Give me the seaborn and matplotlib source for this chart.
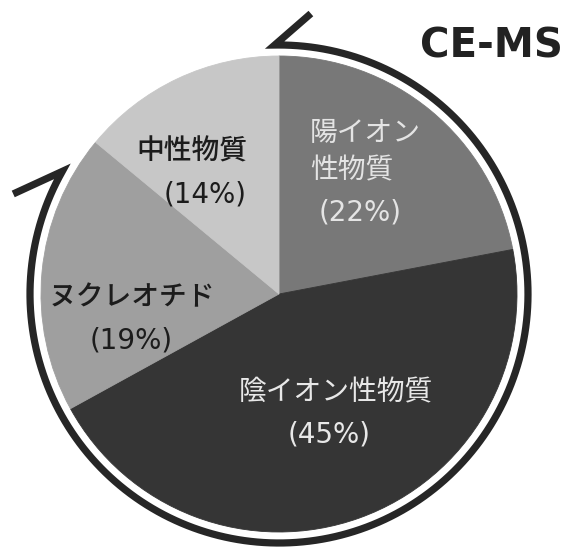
import numpy as np
import matplotlib
matplotlib.use("Agg")
import matplotlib.pyplot as plt
import seaborn as sns

# ---- data ----
categories = ["陽イオン性物質", "陰イオン性物質", "ヌクレオチド", "中性物質"]
label_lines = [["陽イオン", "性物質"], ["陰イオン性物質"], ["ヌクレオチド"], ["中性物質"]]
values = [22, 45, 19, 14]
title = "CE-MS"

# ---- style ----
slice_colors = ["#787878", "#353535", "#9f9f9f", "#c7c7c7"]
text_colors = ["#e4e4e4", "#e8e8e8", "#1c1c1c", "#1c1c1c"]
text_weights = ["normal", "normal", "medium", "medium"]

sns.set_theme(style="white")
plt.rcParams["font.family"] = ["DejaVu Sans", "Noto Sans CJK JP"]

W, H = 571, 555
fig = plt.figure(figsize=(W / 100, H / 100), dpi=100)
ax = fig.add_axes([0, 0, 1, 1])

def Y(y):
    return H - y

cx, cy = 279, Y(294)
R = 238

wedges, _ = ax.pie(values, colors=slice_colors, startangle=90, counterclock=False,
                   center=(cx, cy), radius=R, wedgeprops=dict(linewidth=0.6))
for w, c in zip(wedges, slice_colors):
    w.set_edgecolor(c)

# arrow arc around the pie (decoration)
ra = 249
a_start, a_end = 150.5, 91 + 360
th = np.radians(np.linspace(a_start, a_end, 400))
ax_ = cx + ra * np.cos(th)
ay_ = cy + ra * np.sin(th)
lt = (ax_[0], ay_[0])
tt = (ax_[-1], ay_[-1])
lb = (lt[0] + 54 * np.cos(np.radians(204.7)), lt[1] + 54 * np.sin(np.radians(204.7)))
tb = (tt[0] + 48 * np.cos(np.radians(41)), tt[1] + 48 * np.sin(np.radians(41)))
xs = np.concatenate([[lb[0]], ax_, [tb[0]]])
ys = np.concatenate([[lb[1]], ay_, [tb[1]]])
ax.plot(xs, ys, color="#262626", lw=5.2, solid_joinstyle="miter",
        solid_capstyle="butt", zorder=3)

# labels
fs = 20
pct_pos = [(360, 212, "center"), (329, 434, "center"), (131, 341, "center"), (205, 195, "center")]
line_pos = [[(310, 133, "left"), (310, 170, "left")],
            [(336, 392, "center")],
            [(132, 297, "center")],
            [(192, 151, "center")]]
for i, v in enumerate(values):
    for txt, (x, y, ha) in zip(label_lines[i], line_pos[i]):
        ax.text(x, Y(y), txt, ha=ha, va="center", fontsize=fs,
                color=text_colors[i], weight=text_weights[i], zorder=4)
    x, y, ha = pct_pos[i]
    ax.text(x, Y(y), f"({v}%)", ha=ha, va="center", fontsize=fs,
            color=text_colors[i], weight="normal", zorder=4)

ax.text(420, Y(46), title, ha="left", va="center", fontsize=29,
        weight="bold", color="#222222")

ax.set_xlim(0, W)
ax.set_ylim(0, H)
ax.set_aspect("equal", adjustable="box")
ax.axis("off")
fig.savefig("out.png", dpi=100, facecolor="white")
